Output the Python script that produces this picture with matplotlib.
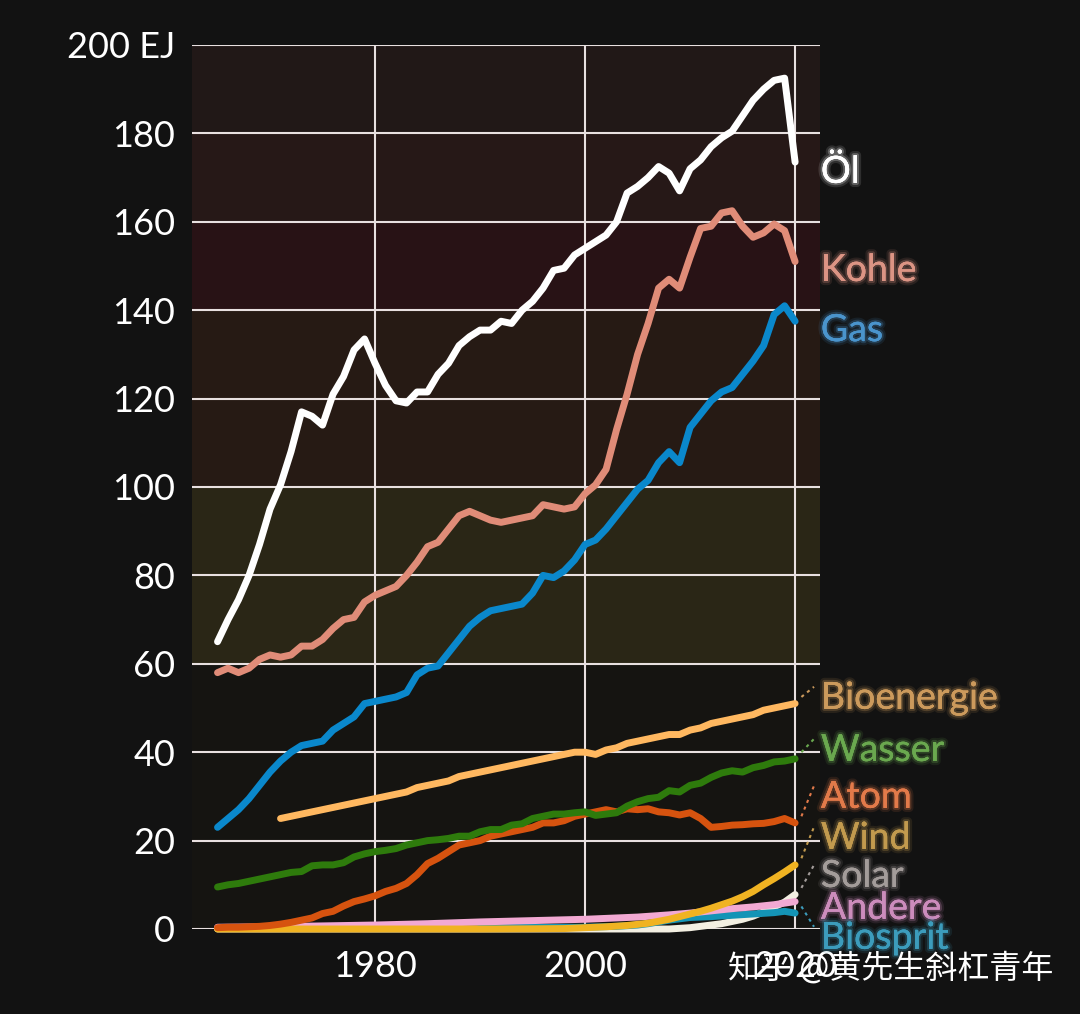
import numpy as np
import matplotlib
matplotlib.use("Agg")
import matplotlib.pyplot as plt
import matplotlib.patheffects as pe

# primary energy by source, EJ
years = list(range(1965, 2021))
oil = [65, 70, 74.5, 80, 87, 95, 100.5, 108, 117, 116,
       114, 121, 125, 131, 133.5, 128, 123, 119.5, 119, 121.5,
       121.5, 125.5, 128, 132, 134, 135.5, 135.5, 137.5, 137, 140,
       142, 145, 149, 149.5, 152.5, 154, 155.5, 157, 160, 166.5,
       168, 170, 172.5, 171, 167, 172, 174, 177, 179, 180.5,
       184, 187.5, 190, 192, 192.5, 173.5]
coal = [58, 59, 58, 59, 61, 62, 61.5, 62, 64, 64,
        65.5, 68, 70, 70.5, 74, 75.5, 76.5, 77.5, 80, 83,
        86.5, 87.5, 90.5, 93.5, 94.5, 93.5, 92.5, 92, 92.5, 93,
        93.5, 96, 95.5, 95, 95.5, 98.5, 100.5, 104, 113, 121,
        130, 137, 145, 147, 145, 152, 158.5, 159, 162, 162.5,
        159, 156.5, 157.5, 159.5, 158, 151]
gas = [23, 25, 27, 29.5, 32.5, 35.5, 38, 40, 41.5, 42,
       42.5, 45, 46.5, 48, 51, 51.5, 52, 52.5, 53.5, 57.5,
       59, 59.5, 62.5, 65.5, 68.5, 70.5, 72, 72.5, 73, 73.5,
       76, 80, 79.5, 81, 83.5, 87, 88, 90.5, 93.5, 96.5,
       99.5, 101.5, 105.5, 108, 105.5, 113.5, 116.5, 119.5, 121.5, 122.5,
       125.5, 128.5, 132, 139, 141, 137.5]
hydro = [9.5, 10, 10.3, 10.8, 11.3, 11.8, 12.3, 12.8, 13, 14.3,
         14.5, 14.5, 15, 16.3, 17, 17.5, 17.8, 18.2, 19, 19.5,
         20, 20.2, 20.5, 21, 21, 22, 22.5, 22.5, 23.5, 23.8,
         25, 25.5, 26, 26, 26.3, 26.5, 25.7, 26, 26.3, 27.8,
         28.8, 29.5, 29.8, 31.3, 31, 32.5, 33, 34.3, 35.3, 35.8,
         35.5, 36.5, 37, 37.8, 38, 38.5]
nuclear = [0.3, 0.4, 0.4, 0.5, 0.6, 0.8, 1.1, 1.5, 2, 2.5,
           3.5, 4, 5.2, 6.2, 6.8, 7.5, 8.5, 9.2, 10.3, 12.3,
           14.8, 16, 17.5, 19, 19.5, 20, 21, 21.5, 22, 22.5,
           23, 24, 24, 24.5, 25.5, 26, 26.5, 27, 26.5, 27.2,
           27, 27.2, 26.5, 26.3, 25.8, 26.3, 25, 23, 23.2, 23.5,
           23.6, 23.8, 23.9, 24.3, 25, 24]

bio_years = list(range(1971, 2021))
bio = [25, 25.5, 26, 26.5, 27, 27.5, 28, 28.5, 29, 29.5,
       30, 30.5, 31, 32, 32.5, 33, 33.5, 34.5, 35, 35.5,
       36, 36.5, 37, 37.5, 38, 38.5, 39, 39.5, 40, 40,
       39.5, 40.5, 41, 42, 42.5, 43, 43.5, 44, 44, 45,
       45.5, 46.5, 47, 47.5, 48, 48.5, 49.5, 50, 50.5, 51]

wind_years = [1965, 1990, 1995, 1998, 2000, 2002, 2004, 2006, 2008, 2010,
              2011, 2012, 2013, 2014, 2015, 2016, 2017, 2018, 2019, 2020]
wind = [0, 0, 0.05, 0.1, 0.3, 0.5, 0.8, 1.3, 2.2, 3.4,
        4.0, 4.7, 5.5, 6.3, 7.3, 8.5, 10, 11.4, 12.9, 14.5]
solar_years = [1965, 2008, 2010, 2011, 2012, 2013, 2014, 2015, 2016, 2017, 2018, 2019, 2020]
solar = [0, 0, 0.3, 0.6, 0.9, 1.2, 1.7, 2.2, 2.9, 3.9, 5.0, 6.1, 7.8]
other_years = [1965, 1970, 1975, 1980, 1985, 1990, 1995, 2000, 2005, 2008,
               2010, 2012, 2014, 2016, 2018, 2020]
other = [0.4, 0.5, 0.7, 0.9, 1.2, 1.6, 1.9, 2.2, 2.7, 3.2,
         3.6, 4.1, 4.6, 5.0, 5.5, 6.2]
biofuel_years = [1990, 1995, 2000, 2003, 2005, 2006, 2007, 2008, 2009, 2010,
                 2012, 2014, 2016, 2018, 2019, 2020]
biofuel = [0.3, 0.35, 0.4, 0.6, 0.9, 1.2, 1.6, 2.0, 2.3, 2.6,
           2.8, 3.1, 3.4, 3.7, 4.0, 3.6]

names = ["Öl", "Kohle", "Gas", "Bioenergie", "Wasser", "Atom", "Wind", "Solar", "Andere", "Biosprit"]
series_x = [years, years, years, bio_years, years, years, wind_years, solar_years, other_years, biofuel_years]
series_y = [oil, coal, gas, bio, hydro, nuclear, wind, solar, other, biofuel]
line_colors = ["#ffffff", "#e08c78", "#0a88cc", "#ffb860", "#2e7b0c", "#d6530f",
               "#f0b322", "#f3efe2", "#f2a9d3", "#1494b6"]
label_colors = ["#ffffff", "#dc9484", "#4a94cc", "#cc9a5c", "#6aa84f", "#e27a4a",
                "#c29a4e", "#a39c9a", "#cc8cbc", "#3c9cbc"]
# stacking of the lines (higher = on top)
line_z = [3.9, 3.8, 3.7, 3.6, 3.5, 3.4, 3.3, 3.0, 3.2, 3.1]
label_y = [171.3, 149.1, 135.5, 52.3, 40.5, 29.9, 20.6, 12.0, 4.75, -2.0]
has_leader = [False, False, False, True, True, True, True, True, False, True]

bands = [(0, 60, "#151411"), (60, 100, "#2a2616"), (100, 140, "#261a14"),
         (140, 160, "#281215"), (160, 180, "#261817"), (180, 200, "#211817")]

font = "Lato"
fig = plt.figure(figsize=(10.8, 10.14), dpi=100, facecolor="#121212")
ax = fig.add_axes([192 / 1080, 85 / 1014, 628 / 1080, 884 / 1014])
ax.set_facecolor("#121212")

for lo, hi, c in bands:
    ax.axhspan(lo, hi, color=c, zorder=0, lw=0)

ax.set_xlim(1962.57, 2022.37)
ax.set_ylim(0, 200)
ax.set_yticks(range(0, 201, 20))
ax.set_yticklabels([str(v) for v in range(0, 200, 20)] + ["200 EJ"])
ax.set_xticks([1980, 2000, 2020])
ax.grid(True, color="#e8e0e0", lw=1.5, zorder=1)
ax.set_axisbelow(False)
for s in ax.spines.values():
    s.set_visible(False)
ax.tick_params(length=0, colors="white", labelsize=26)
ax.tick_params(axis="y", pad=12)
ax.tick_params(axis="x", pad=15)
for t in ax.get_xticklabels() + ax.get_yticklabels():
    t.set_fontfamily(font)

for i, name in enumerate(names):
    ax.plot(series_x[i], series_y[i], color=line_colors[i], lw=5, solid_capstyle="round",
            solid_joinstyle="round", zorder=line_z[i], clip_on=False)
    c = label_colors[i]
    glow = [pe.withStroke(linewidth=6, foreground=c, alpha=0.12),
            pe.withStroke(linewidth=3, foreground=c, alpha=0.25), pe.Normal()]
    ax.text(2022.45, label_y[i], name, color=c, fontsize=27, fontfamily=font,
            va="center", ha="left", clip_on=False, path_effects=glow, zorder=6)
    if has_leader[i]:
        last = series_y[i][-1]
        ax.plot([2020.6, 2021.8], [last + 1.5, label_y[i] + 2.5], color=c, lw=1.5,
                ls=(0, (1.5, 2)), clip_on=False, zorder=5)

fig.text(728 / 1080, 1 - 968 / 1014, "知乎 @黄先生斜杠青年", color="white", fontsize=23,
         fontfamily=["Noto Sans CJK SC", "DejaVu Sans"], va="center", ha="left")

fig.savefig("out.png", dpi=100, facecolor=fig.get_facecolor())
